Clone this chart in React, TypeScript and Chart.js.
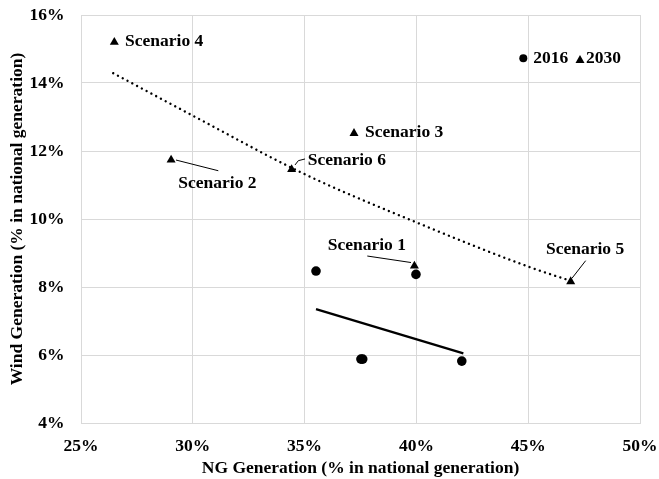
import React, { useEffect, useRef } from "react";
import { Chart, registerables } from "chart.js";

Chart.register(...registerables);

// ---------- DATA ----------
const ngShare2016 = [35.51, 39.98, 37.52, 37.6, 42.03];
const windShare2016 = [8.47, 8.37, 5.88, 5.88, 5.82];

const scenarioNames = ["Scenario 1", "Scenario 2", "Scenario 3", "Scenario 4", "Scenario 5", "Scenario 6"];
const ngShare2030 = [39.91, 29.03, 37.21, 26.49, 46.9, 34.42];
const windShare2030 = [8.62, 11.74, 12.52, 15.2, 8.16, 11.46];

const trend2016X = [35.51, 42.1];
const trend2016Y = [7.35, 6.05];
const trend2030X = [26.44, 30, 35, 40, 45, 46.9];
const trend2030Y = [14.29, 13.04, 11.32, 9.9, 8.6, 8.18];

const legendLabels = ["2016", "2030"];
const xTitle = "NG Generation (% in national generation)";
const yTitle = "Wind Generation (% in national generation)";
const xMin = 25, xMax = 50, xStep = 5;
const yMin = 4, yMax = 16, yStep = 2;

// ---------- STYLE ----------
const FONT_FAMILY = "'Liberation Serif', 'Times New Roman', serif";
const FONT_SIZE = 17.5;
const GRID = "#d9d9d9";

// label offsets (px) relative to each scenario marker
const labelLayout: Record<string, { dx: number; dy: number; leader?: number[][] }> = {
  "Scenario 1": { dx: -86.7, dy: -20.9, leader: [[-47.1, -9.9], [-3.4, -3.4]] },
  "Scenario 2": { dx: 7.2, dy: 23.2, leader: [[4.9, 0.2], [47.2, 10.9]] },
  "Scenario 3": { dx: 11, dy: -0.8 },
  "Scenario 4": { dx: 10.7, dy: -1.2 },
  "Scenario 5": { dx: -24.7, dy: -32.1, leader: [[15, -20.9], [1.3, -3.3]] },
  "Scenario 6": { dx: 16.1, dy: -8.9, leader: [[3.4, -4.4], [6.7, -8.7], [13.4, -10.4]] },
};

const toPoints = (xs: number[], ys: number[]) => xs.map((x, i) => ({ x, y: ys[i] }));

const annotationPlugin = {
  id: "annotations",
  afterDatasetsDraw(chart: any) {
    const ctx = chart.ctx as CanvasRenderingContext2D;
    const meta = chart.getDatasetMeta(3);
    ctx.save();
    ctx.fillStyle = "#000";
    ctx.strokeStyle = "#000";
    ctx.lineWidth = 1;
    ctx.font = `bold ${FONT_SIZE}px ${FONT_FAMILY}`;
    ctx.textAlign = "left";
    ctx.textBaseline = "middle";
    meta.data.forEach((el: any, i: number) => {
      const name = scenarioNames[i];
      const lay = labelLayout[name];
      const px = el.x, py = el.y;
      if (lay.leader) {
        ctx.beginPath();
        lay.leader.forEach((p, j) => {
          if (j === 0) ctx.moveTo(px + p[0], py + p[1]);
          else ctx.lineTo(px + p[0], py + p[1]);
        });
        ctx.stroke();
      }
      ctx.fillText(name, px + lay.dx, py + lay.dy);
    });

    // legend inside plot area (top-right)
    const { right, top } = chart.chartArea;
    ctx.beginPath();
    ctx.arc(right - 116.7, top + 43.3, 4, 0, Math.PI * 2);
    ctx.fill();
    ctx.fillText(legendLabels[0], right - 106.7, top + 43.5);
    const tx = right - 60, ty = top + 45.3, r = 5.2;
    ctx.beginPath();
    for (let k = 0; k < 3; k++) {
      const a = (k * 2 * Math.PI) / 3;
      const vx = tx + Math.sin(a) * r, vy = ty - Math.cos(a) * r;
      if (k === 0) ctx.moveTo(vx, vy);
      else ctx.lineTo(vx, vy);
    }
    ctx.closePath();
    ctx.fill();
    ctx.fillText(legendLabels[1], right - 54, top + 43.5);
    ctx.restore();
  },
};

const zeroPad = (s: any) => {
  s.paddingLeft = 0;
  s.paddingRight = 0;
  s.paddingTop = 0;
  s.paddingBottom = 0;
};

export default function App() {
  const canvasRef = useRef<HTMLCanvasElement | null>(null);

  useEffect(() => {
    if (!canvasRef.current) return;
    const font = { family: FONT_FAMILY, size: FONT_SIZE, weight: "bold" as const };
    const chart = new Chart(canvasRef.current, {
      type: "scatter",
      data: {
        datasets: [
          {
            label: "trend2030",
            data: toPoints(trend2030X, trend2030Y),
            showLine: true,
            borderColor: "#000",
            borderWidth: 2.4,
            borderDash: [0.01, 5.4],
            borderCapStyle: "round",
            cubicInterpolationMode: "monotone",
            pointRadius: 0,
            fill: false,
          } as any,
          {
            label: "trend2016",
            data: toPoints(trend2016X, trend2016Y),
            showLine: true,
            borderColor: "#000",
            borderWidth: 2.25,
            pointRadius: 0,
            fill: false,
          },
          {
            label: "2016",
            data: toPoints(ngShare2016, windShare2016),
            pointStyle: "circle",
            pointRadius: 4.8,
            pointBackgroundColor: "#000",
            pointBorderWidth: 0,
            showLine: false,
          },
          {
            label: "2030",
            data: toPoints(ngShare2030, windShare2030),
            pointStyle: "triangle",
            pointRadius: 5.2,
            pointBackgroundColor: "#000",
            pointBorderWidth: 0,
            showLine: false,
          },
        ],
      },
      options: {
        responsive: false,
        animation: false,
        devicePixelRatio: 1,
        layout: { padding: { top: 15, right: 19, left: 0, bottom: 0 } },
        plugins: {
          legend: { display: false },
          tooltip: { enabled: false },
        },
        scales: {
          x: {
            type: "linear",
            min: xMin,
            max: xMax,
            afterFit: (s: any) => {
              s.height = 56;
              zeroPad(s);
            },
            ticks: {
              stepSize: xStep,
              color: "#000",
              font,
              padding: 13,
              maxRotation: 0,
              callback: (v: any) => `${v}%`,
            },
            grid: { color: GRID, lineWidth: 1, drawTicks: false },
            border: { color: GRID, width: 1 },
            title: {
              display: true,
              text: xTitle,
              color: "#000",
              font,
              padding: { top: 0, bottom: 0 },
            },
          },
          y: {
            type: "linear",
            min: yMin,
            max: yMax,
            afterFit: (s: any) => {
              s.width = 81;
              zeroPad(s);
            },
            ticks: {
              stepSize: yStep,
              color: "#000",
              font,
              padding: 16.5,
              callback: (v: any) => `${v}%`,
            },
            grid: { color: GRID, lineWidth: 1, drawTicks: false },
            border: { color: GRID, width: 1 },
            title: {
              display: true,
              text: yTitle,
              color: "#000",
              font,
              padding: { top: 6.5, bottom: 0 },
            },
          },
        },
      },
      plugins: [annotationPlugin],
    });
    return () => chart.destroy();
  }, []);

  return (
    <div style={{ position: "absolute", left: 0, top: 0, width: 659, height: 479, background: "#fff" }}>
      <canvas ref={canvasRef} width={659} height={479} style={{ display: "block" }} />
    </div>
  );
}
